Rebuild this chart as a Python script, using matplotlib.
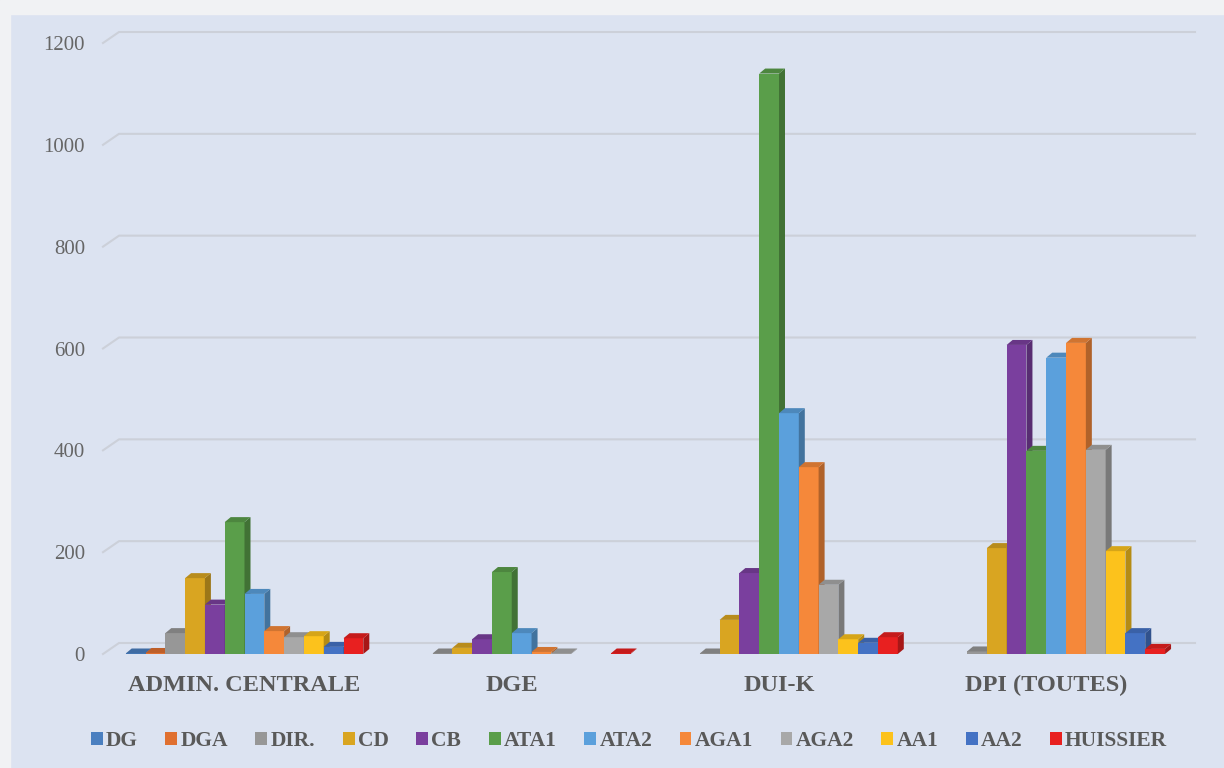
import matplotlib.pyplot as plt
from matplotlib.patches import Polygon, Rectangle, Patch
import numpy as np

nan = np.nan

categories = ['ADMIN. CENTRALE', 'DGE', 'DUI-K', 'DPI (TOUTES)']
series_names = ['DG', 'DGA', 'DIR.', 'CD', 'CB', 'ATA1', 'ATA2',
                'AGA1', 'AGA2', 'AA1', 'AA2', 'HUISSIER']

dg = [1, nan, nan, nan]
dga = [2, nan, nan, nan]
dir_ = [41, 1, 1, 5]
cd = [149, 12, 67, 208]
cb = [97, 29, 159, 607]
ata1 = [259, 161, 1140, 399]
ata2 = [118, 41, 473, 582]
aga1 = [45, 4, 367, 611]
aga2 = [33, 1, 136, 401]
aa1 = [35, nan, 29, 202]
aa2 = [14, nan, 22, 41]
huissier = [31, 1, 33, 10]

values = [dg, dga, dir_, cd, cb, ata1, ata2, aga1, aga2, aa1, aa2, huissier]
colors = ['#4a7fc0', '#e07030', '#979797', '#d9a521', '#7a3f9e', '#5a9e4a',
          '#5ba0dc', '#f5883a', '#a8a8a8', '#fcc21c', '#4472c4', '#e82020']

yticks = [0, 200, 400, 600, 800, 1000, 1200]

W, H = 1224, 768
text_col = '#595959'
serif = 'Liberation Serif'

fig = plt.figure(figsize=(W / 100, H / 100), dpi=100, facecolor='#dce3f1')
fig.patches.append(Rectangle((0, 1 - 14 / H), 1, 14 / H, transform=fig.transFigure,
                             color='#f1f2f4', zorder=0))
fig.patches.append(Rectangle((0, 0), 10 / W, 1, transform=fig.transFigure,
                             color='#f1f2f4', zorder=0))

# axes placement in pixels
ax_left, ax_right = 103, 1195
ax_bottom, ax_top = 654, 43
ax = fig.add_axes([ax_left / W, 1 - ax_bottom / H,
                   (ax_right - ax_left) / W, (ax_bottom - ax_top) / H])
ax.set_facecolor('none')

spacing = 267.25
center0 = 244.5
xmin = -(center0 - ax_left) / spacing
xmax = xmin + (ax_right - ax_left) / spacing
ax.set_xlim(xmin, xmax)
ax.set_ylim(0, 1200)

px_x = (xmax - xmin) / (ax_right - ax_left)
px_y = 1200 / (ax_bottom - ax_top)


def shade(c, f):
    r, g, b = [int(c[i:i + 2], 16) / 255 for i in (1, 3, 5)]
    return (r * f, g * f, b * f)


# back-wall gridlines
gdx, gdy = 16 * px_x, 11 * px_y
for v in yticks:
    ax.plot([xmin, xmin + gdx, xmax], [v, v + gdy, v + gdy], color='#ccd0d9',
            lw=1.5, clip_on=False, zorder=1)

# 3D-looking bars
bw = 19.8 * px_x
ddx, ddy = 6 * px_x, 5 * px_y
idx = np.arange(len(categories))
for k, (vals, col) in enumerate(zip(values, colors)):
    x = idx + (k - 5.5) * bw
    z = 3 + k * 0.1
    ax.bar(x, vals, width=bw, color=col, zorder=z, clip_on=False)
    for xi, v in zip(x, vals):
        if np.isnan(v):
            continue
        x0, x1 = xi - bw / 2, xi + bw / 2
        side = Polygon([(x1, 0), (x1 + ddx, ddy), (x1 + ddx, v + ddy), (x1, v)],
                       closed=True, facecolor=shade(col, 0.72), edgecolor='none',
                       zorder=z, clip_on=False)
        top = Polygon([(x0, v), (x1, v), (x1 + ddx, v + ddy), (x0 + ddx, v + ddy)],
                      closed=True, facecolor=shade(col, 0.85), edgecolor='none',
                      zorder=z, clip_on=False)
        ax.add_patch(side)
        ax.add_patch(top)

for s in ax.spines.values():
    s.set_visible(False)

ax.set_yticks(yticks)
ax.set_yticklabels([str(v) for v in yticks], family=serif, fontsize=15,
                   color='#666666')
ax.set_xticks(idx)
ax.set_xticklabels(categories, family=serif, fontweight='bold', fontsize=17.5,
                   color=text_col)
ax.tick_params(axis='y', length=0, pad=13)
ax.tick_params(axis='x', length=0, pad=15)

handles = [Patch(facecolor=c, edgecolor='none') for c in colors]
fig.legend(handles, series_names, ncol=12, loc='center',
           bbox_to_anchor=(629 / W, 1 - 741 / H), frameon=False,
           prop=dict(family=serif, weight='bold', size=15.5),
           labelcolor=text_col, handlelength=0.55, handleheight=0.55,
           handletextpad=0.15, columnspacing=1.28)

fig.savefig('out.png', dpi=100, facecolor=fig.get_facecolor())
